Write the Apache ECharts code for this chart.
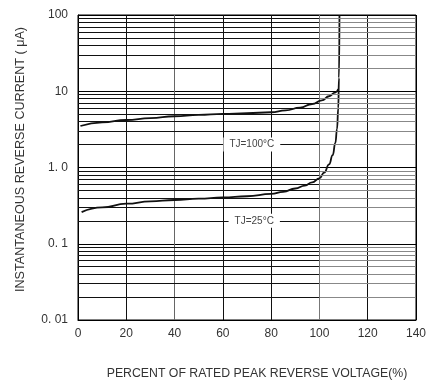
<!DOCTYPE html>
<html>
<head>
<meta charset="utf-8">
<script src="https://cdn.jsdelivr.net/npm/echarts@6/dist/echarts.min.js"></script>
<style>
  html, body { margin: 0; padding: 0; background: #fff; }
  #chart { width: 429px; height: 385px; }
</style>
</head>
<body>
<div id="chart"></div>
<script>
// curve TJ=100°C
var x100 = [1, 10, 20, 30, 40, 50, 60, 70, 80, 86, 92, 97, 101, 104, 106.5, 107.8];
var y100 = [3.5, 3.9, 4.2, 4.45, 4.7, 4.9, 5.05, 5.15, 5.3, 5.6, 6.1, 6.8, 7.6, 8.6, 9.6, 10.7];
// curve TJ=25°C
var x25 = [1.5, 10, 20, 30, 40, 50, 60, 70, 80, 85, 90, 94, 97, 100, 102, 104, 105.5, 106.6, 107.3, 107.8, 108.1, 108.3];
var y25 = [0.26, 0.3, 0.335, 0.36, 0.375, 0.39, 0.405, 0.42, 0.45, 0.48, 0.53, 0.58, 0.64, 0.72, 0.86, 1.1, 1.45, 2.1, 3.2, 6, 15, 100];

var yTicks = [0.01, 0.1, 1, 10, 100];
var yTickLabels = ['0. 01', '0. 1', '1. 0', '10', '100'];
var minorSteps = [2, 3, 4, 5, 6, 7, 8, 9];
var xSplitColors = ['#000', '#111', '#666', '#111', '#111', '#777', '#111', '#000'];

// log grid lines inside each decade
var minorLines = [];
yTicks.slice(0, -1).forEach(function (d) {
  minorSteps.forEach(function (k) { minorLines.push(+(d * k).toPrecision(3)); });
});

function pairs(xs, ys) {
  return xs.map(function (x, i) { return [x, ys[i]]; });
}

var markLines = [];
minorLines.forEach(function (v) {
  markLines.push([{ coord: [0, v], lineStyle: { color: '#111', width: 1, type: 'solid' } }, { coord: [100, v] }]);
  markLines.push([{ coord: [100, v], lineStyle: { color: '#888', width: 1, type: 'solid' } }, { coord: [140, v] }]);
});

var font = 'Liberation Sans';
var chart = echarts.init(document.getElementById('chart'));
chart.setOption({
  animation: false,
  grid: { left: 78, right: 13, top: 15, bottom: 64, show: true, borderColor: '#000', borderWidth: 1 },
  xAxis: {
    type: 'value', min: 0, max: 140, interval: 20,
    name: 'PERCENT OF RATED PEAK REVERSE VOLTAGE(%)',
    nameLocation: 'middle', nameGap: 48,
    nameTextStyle: { fontFamily: font, fontSize: 12.3, color: '#333', padding: [0, 0, 0, 20] },
    axisLine: { show: true, lineStyle: { color: '#000' } },
    axisTick: { show: false },
    axisLabel: { fontFamily: font, fontSize: 12, color: '#333', margin: 8 },
    splitLine: { show: true, lineStyle: { color: xSplitColors, width: 1 } }
  },
  yAxis: {
    type: 'log', logBase: 10, min: 0.01, max: 100,
    name: 'INSTANTANEOUS REVERSE CURRENT ( μA)',
    nameLocation: 'middle', nameGap: 51,
    nameTextStyle: { fontFamily: font, fontSize: 12.6, color: '#333', padding: [0, 0, 0, 16] },
    axisLine: { show: true, lineStyle: { color: '#000' } },
    axisTick: { show: false },
    axisLabel: {
      fontFamily: font, fontSize: 12, color: '#333', margin: 10,
      formatter: function (v) {
        var i = yTicks.findIndex(function (t) { return Math.abs(Math.log10(t) - Math.log10(v)) < 1e-6; });
        return i >= 0 ? yTickLabels[i] : '';
      }
    },
    splitLine: { show: true, lineStyle: { color: '#000', width: 1 } }
  },
  series: [
    {
      type: 'line', silent: true, data: [], z: 1,
      markLine: { silent: true, symbol: 'none', label: { show: false }, animation: false, data: markLines },
      markPoint: {
        silent: true, symbol: 'rect', symbolSize: 0,
        label: {
          show: true, position: 'inside', fontFamily: font, fontSize: 10, color: '#444',
          backgroundColor: '#fff', padding: [2, 6]
        },
        data: [
          { coord: [72, 2], value: 'TJ=100°C', label: { formatter: 'TJ=100°C' } },
          { coord: [73, 0.2], value: 'TJ=25°C', label: { formatter: 'TJ=25°C' } }
        ]
      }
    },
    {
      type: 'line', data: pairs(x100, y100), smooth: 0.5, smoothMonotone: 'x',
      showSymbol: false, lineStyle: { color: '#111', width: 1.8 }, z: 3
    },
    {
      type: 'line', data: pairs(x25, y25), smooth: 0.5, smoothMonotone: 'x',
      showSymbol: false, lineStyle: { color: '#111', width: 1.8 }, z: 3
    }
  ]
});
</script>
</body>
</html>
